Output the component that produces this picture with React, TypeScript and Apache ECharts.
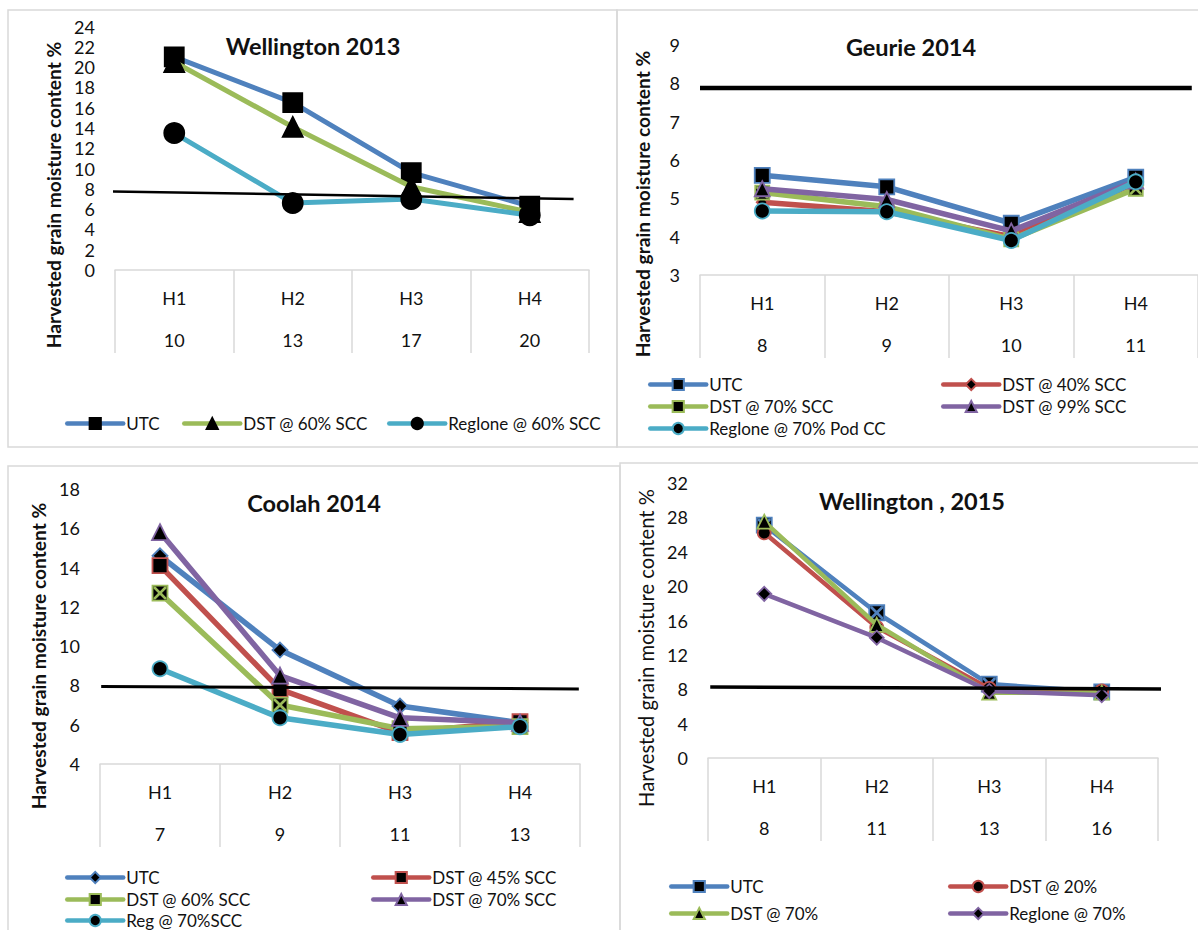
import React, { useEffect, useRef } from "react";
import * as echarts from "echarts";

// ---------- DATA ----------
const harvests = ["H1", "H2", "H3", "H4"];

// Wellington 2013
const wel13Days = ["10", "13", "17", "20"];
const wel13UTC = [21.0, 16.5, 9.6, 6.3];
const wel13DST60 = [20.5, 14.1, 8.2, 5.7];
const wel13Reglone = [13.5, 6.6, 7.0, 5.4];
const wel13Threshold = [[-0.56, 7.75], [3.37, 7.0]];

// Geurie 2014
const geuDays = ["8", "9", "10", "11"];
const geuUTC = [5.6, 5.3, 4.35, 5.55];
const geuDST40 = [4.9, 4.65, 4.0, 5.4];
const geuDST70 = [5.15, 4.78, 3.93, 5.25];
const geuDST99 = [5.25, 4.97, 4.15, 5.45];
const geuReglone = [4.67, 4.65, 3.9, 5.43];
const geuThreshold = [[-0.5, 7.88], [3.45, 7.88]];

// Coolah 2014
const cooDays = ["7", "9", "11", "13"];
const cooUTC = [14.6, 9.8, 6.95, 6.1];
const cooDST45 = [14.1, 7.8, 5.6, 6.15];
const cooDST60 = [12.7, 7.0, 5.8, 5.9];
const cooDST70 = [15.8, 8.5, 6.35, 6.1];
const cooReg = [8.85, 6.35, 5.5, 5.9];
const cooThreshold = [[-0.49, 7.95], [3.49, 7.82]];

// Wellington 2015
const wel15Days = ["8", "11", "13", "16"];
const wel15UTC = [27.1, 16.9, 8.6, 7.7];
const wel15DST20 = [26.2, 15.2, 8.1, 7.8];
const wel15DST70 = [27.5, 15.5, 7.6, 7.6];
const wel15Reglone = [19.1, 14.0, 7.8, 7.3];
const wel15Threshold = [[-0.48, 8.27], [3.56, 8.03]];

// ---------- STYLE ----------
const FONT = "Lato";
const TXT = "#111";
const GRAYLINE = "#d9d9d9";
const C = {
  blue: "#4F81BD",
  red: "#C0504D",
  green: "#9BBB59",
  purple: "#8064A2",
  cyan: "#4BACC6",
};
const X_PATH =
  "path://M0,0L3,0L10,7L17,0L20,0L20,3L13,10L20,17L20,20L17,20L10,13L3,20L0,20L0,17L7,10L0,3Z";

type S = {
  name: string;
  data: number[];
  color: string;
  symbol: string;
  size: number;
  border: string;
  xMark?: boolean;
  lx: number;
  ly: number;
};
type P = {
  grid: { left: number; top: number; width: number; height: number };
  yMin: number;
  yMax: number;
  yInterval: number;
  days: string[];
  series: S[];
  lineWidth: number;
  threshold: number[][];
  thresholdWidth: number;
  title: string;
  titleX: number;
  titleY: number;
  yNameX: number;
  yNameY: number;
  yNameBold: boolean;
  border: { x: number; y: number; w: number; h: number };
};

const panels: P[] = [
  {
    grid: { left: 115, top: 26.5, width: 474, height: 243.5 },
    yMin: 0,
    yMax: 24,
    yInterval: 2,
    days: wel13Days,
    series: [
      { name: "UTC", data: wel13UTC, color: C.blue, symbol: "rect", size: 19, border: "#000", lx: 65, ly: 422 },
      { name: "DST @ 60% SCC", data: wel13DST60, color: C.green, symbol: "triangle", size: 20, border: "#000", lx: 182, ly: 422 },
      { name: "Reglone @ 60% SCC", data: wel13Reglone, color: C.cyan, symbol: "circle", size: 20, border: "#000", lx: 387, ly: 422 },
    ],
    lineWidth: 5,
    threshold: wel13Threshold,
    thresholdWidth: 2.5,
    title: "Wellington 2013",
    titleX: 313,
    titleY: 46,
    yNameX: 53,
    yNameY: 195,
    yNameBold: true,
    border: { x: 8, y: 10, w: 609, h: 437 },
  },
  {
    grid: { left: 700, top: 45, width: 505, height: 230 },
    yMin: 3,
    yMax: 9,
    yInterval: 1,
    days: geuDays,
    series: [
      { name: "UTC", data: geuUTC, color: C.blue, symbol: "rect", size: 15, border: C.blue, lx: 648, ly: 383 },
      { name: "DST @ 40% SCC", data: geuDST40, color: C.red, symbol: "diamond", size: 11, border: C.red, lx: 941, ly: 383 },
      { name: "DST @ 70% SCC", data: geuDST70, color: C.green, symbol: "rect", size: 14, border: C.green, xMark: true, lx: 648, ly: 405 },
      { name: "DST @ 99% SCC", data: geuDST99, color: C.purple, symbol: "triangle", size: 15, border: C.purple, lx: 941, ly: 405 },
      { name: "Reglone @ 70% Pod CC", data: geuReglone, color: C.cyan, symbol: "circle", size: 15, border: C.cyan, lx: 648, ly: 427 },
    ],
    lineWidth: 5.5,
    threshold: geuThreshold,
    thresholdWidth: 4.5,
    title: "Geurie 2014",
    titleX: 911,
    titleY: 47,
    yNameX: 642,
    yNameY: 204,
    yNameBold: true,
    border: { x: 617, y: 10, w: 600, h: 437 },
  },
  {
    grid: { left: 100, top: 489, width: 480, height: 275 },
    yMin: 4,
    yMax: 18,
    yInterval: 2,
    days: cooDays,
    series: [
      { name: "UTC", data: cooUTC, color: C.blue, symbol: "diamond", size: 15, border: C.blue, lx: 65, ly: 876 },
      { name: "DST @ 45% SCC", data: cooDST45, color: C.red, symbol: "rect", size: 15, border: C.red, lx: 371, ly: 876 },
      { name: "DST @ 60% SCC", data: cooDST60, color: C.green, symbol: "rect", size: 15, border: C.green, xMark: true, lx: 65, ly: 898 },
      { name: "DST @ 70% SCC", data: cooDST70, color: C.purple, symbol: "triangle", size: 16, border: C.purple, lx: 371, ly: 898 },
      { name: "Reg @ 70%SCC", data: cooReg, color: C.cyan, symbol: "circle", size: 15, border: C.cyan, lx: 65, ly: 919 },
    ],
    lineWidth: 5.5,
    threshold: cooThreshold,
    thresholdWidth: 3,
    title: "Coolah 2014",
    titleX: 314,
    titleY: 503,
    yNameX: 38,
    yNameY: 656,
    yNameBold: true,
    border: { x: 8, y: 466, w: 612, h: 500 },
  },
  {
    grid: { left: 708, top: 483, width: 450, height: 275 },
    yMin: 0,
    yMax: 32,
    yInterval: 4,
    days: wel15Days,
    series: [
      { name: "UTC", data: wel15UTC, color: C.blue, symbol: "rect", size: 15, border: C.blue, xMark: true, lx: 669, ly: 885 },
      { name: "DST @ 20%", data: wel15DST20, color: C.red, symbol: "circle", size: 13, border: C.red, lx: 948, ly: 885 },
      { name: "DST @ 70%", data: wel15DST70, color: C.green, symbol: "triangle", size: 14, border: C.green, lx: 669, ly: 912 },
      { name: "Reglone @ 70%", data: wel15Reglone, color: C.purple, symbol: "diamond", size: 14, border: C.purple, lx: 948, ly: 912 },
    ],
    lineWidth: 4.5,
    threshold: wel15Threshold,
    thresholdWidth: 3.5,
    title: "Wellington , 2015",
    titleX: 912,
    titleY: 501,
    yNameX: 646,
    yNameY: 648,
    yNameBold: false,
    border: { x: 620, y: 463, w: 600, h: 500 },
  },
];

const Y_NAME = "Harvested grain moisture content %";
const SEP = "\u0001";

function buildOption() {
  const grid: any[] = [];
  const xAxis: any[] = [];
  const yAxis: any[] = [];
  const series: any[] = [];
  const legend: any[] = [];
  const graphic: any[] = [];
  const n = panels.length;

  panels.forEach((p, i) => {
    grid.push({ ...p.grid, containLabel: false });
    const days = p.days;
    xAxis.push({
      type: "category",
      gridIndex: i,
      data: harvests,
      boundaryGap: true,
      axisLine: { show: true, lineStyle: { color: GRAYLINE, width: 1.5 } },
      axisTick: { show: true, length: 83, alignWithLabel: false, lineStyle: { color: GRAYLINE, width: 1.5 } },
      axisLabel: {
        margin: 7,
        interval: 0,
        formatter: (v: string, idx: number) => `{a|${v}}\n{a|${days[idx]}}`,
        rich: { a: { fontSize: 18, lineHeight: 42, fontFamily: FONT, color: TXT } },
      },
      splitLine: { show: false },
    });
    yAxis.push({
      type: "value",
      gridIndex: i,
      min: p.yMin,
      max: p.yMax,
      interval: p.yInterval,
      axisLine: { show: false },
      axisTick: { show: false },
      splitLine: { show: false },
      axisLabel: { margin: 20, fontSize: 18, fontFamily: FONT, color: TXT },
    });

    p.series.forEach((s, k) => {
      const uid = `p${i}${SEP}${s.name}`;
      series.push({
        type: "line",
        name: uid,
        xAxisIndex: i,
        yAxisIndex: i,
        data: s.data,
        symbol: s.symbol,
        symbolSize: s.size,
        showSymbol: true,
        lineStyle: { color: s.color, width: p.lineWidth, cap: "round", join: "round" },
        itemStyle: { color: "#000", borderColor: s.border, borderWidth: 1.8 },
        emphasis: { disabled: true },
        z: 3 + k,
      });
      if (s.xMark) {
        series.push({
          type: "line",
          name: uid + " x",
          xAxisIndex: i,
          yAxisIndex: i,
          data: s.data,
          symbol: X_PATH,
          symbolSize: s.size - 2,
          showSymbol: true,
          lineStyle: { opacity: 0, width: 0 },
          itemStyle: { color: s.color },
          emphasis: { disabled: true },
          silent: true,
          z: 3 + k,
        });
      }
      legend.push({
        left: s.lx,
        top: s.ly - 7,
        orient: "horizontal",
        itemWidth: 56,
        itemHeight: 14,
        data: [{ name: uid }],
        formatter: (nm: string) => nm.split(SEP)[1],
        selectedMode: false,
        padding: 0,
        lineStyle: { width: 4.5, cap: "round" },
        textStyle: { fontFamily: FONT, fontSize: 17, color: TXT, lineHeight: 14, padding: [0, 0, 0, -2] },
      });
    });

    graphic.push({
      type: "rect",
      shape: { x: p.border.x, y: p.border.y, width: p.border.w, height: p.border.h },
      style: { fill: "none", stroke: GRAYLINE, lineWidth: 1.5 },
      z: 0,
      silent: true,
    });
    graphic.push({
      type: "text",
      x: p.titleX,
      y: p.titleY,
      style: {
        text: p.title,
        fontFamily: FONT,
        fontWeight: "bold",
        fontSize: 23.5,
        fill: TXT,
        align: "center",
        verticalAlign: "middle",
      },
      silent: true,
    });
    graphic.push({
      type: "text",
      x: p.yNameX,
      y: p.yNameY,
      rotation: Math.PI / 2,
      style: {
        text: Y_NAME,
        fontFamily: FONT,
        fontWeight: p.yNameBold ? "bold" : "normal",
        fontSize: p.yNameBold ? 19.2 : 20.2,
        fill: TXT,
        align: "center",
        verticalAlign: "middle",
      },
      silent: true,
    });
  });

  // hidden value x-axes for the hand-drawn threshold lines
  panels.forEach((p, i) => {
    xAxis.push({ type: "value", gridIndex: i, min: -0.5, max: 3.5, show: false });
    series.push({
      type: "line",
      name: "threshold " + i,
      xAxisIndex: n + i,
      yAxisIndex: i,
      data: p.threshold,
      symbol: "none",
      clip: false,
      lineStyle: { color: "#000", width: p.thresholdWidth },
      emphasis: { disabled: true },
      silent: true,
      z: 20,
    });
  });

  return {
    animation: false,
    backgroundColor: "#fff",
    textStyle: { fontFamily: FONT },
    grid,
    xAxis,
    yAxis,
    series,
    legend,
    graphic: { elements: graphic },
    tooltip: { show: false },
  };
}

export default function App() {
  const ref = useRef<HTMLDivElement>(null);
  useEffect(() => {
    if (!ref.current) return;
    const chart = echarts.init(ref.current, undefined, { renderer: "svg" });
    chart.setOption(buildOption() as any);
    return () => chart.dispose();
  }, []);
  return (
    <div
      ref={ref}
      style={{ position: "absolute", left: 0, top: 0, width: 1198, height: 930, background: "#fff" }}
    />
  );
}
